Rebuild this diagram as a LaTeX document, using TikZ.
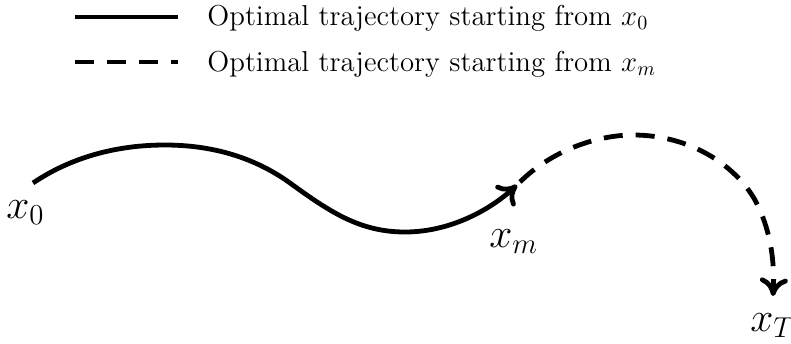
\documentclass[tikz,border=0pt]{standalone}
\usetikzlibrary{arrows.meta}
\tikzset{
  traj/.style={line width=2.4pt, line cap=butt},
  dashtraj/.style={traj, dash pattern=on 9.5pt off 6.5pt},
  tip/.style={-{To[length=9pt,width=14pt]}},
  legtext/.style={anchor=base west, inner sep=0pt, font=\fontsize{14.4}{17}\selectfont},
  ptlabel/.style={anchor=base west, inner sep=0pt, font=\fontsize{21}{25}\selectfont},
}
\begin{document}
\begin{tikzpicture}[x=0.5pt,y=-0.5pt]
\useasboundingbox (0,0) rectangle (791,343);
% legend
\coordinate (l1a) at (75,17);
\coordinate (l1b) at (178,17);
\coordinate (l2a) at (75,62);
\coordinate (l2b) at (178,62);
\draw[traj] (l1a) -- (l1b);
\draw[dashtraj] (l2a) -- (l2b);
\node[legtext] (t1) at (207,25) {Optimal trajectory starting from $x_0$};
\node[legtext] (t2) at (207,71) {Optimal trajectory starting from $x_m$};
% points
\coordinate (x0) at (33,183);
\coordinate (xm) at (517,185);
\coordinate (xT) at (773,296);
\coordinate (p1) at (165,145);
\coordinate (p2) at (290,183);
\coordinate (p3) at (405,232);
\coordinate (d0) at (520,182);
\coordinate (d1) at (633,135);
\coordinate (d2) at (755,200);
% solid trajectory
\draw[traj, tip] (x0) .. controls (70,158) and (115,145) .. (p1)
  .. controls (225,145) and (265,165) .. (p2)
  .. controls (330,212) and (360,232) .. (p3)
  .. controls (450,232) and (490,210) .. (xm);
% dashed trajectory
\draw[dashtraj, tip] (d0) .. controls (550,152) and (595,135) .. (d1)
  .. controls (690,135) and (735,165) .. (d2)
  .. controls (770,228) and (775,260) .. (xT);
% labels
\node[ptlabel] (lx0) at (6,218) {$x_0$};
\node[ptlabel] (lxm) at (489,247) {$x_m$};
\node[ptlabel] (lxT) at (750,331) {$x_T$};
\end{tikzpicture}
\end{document}
